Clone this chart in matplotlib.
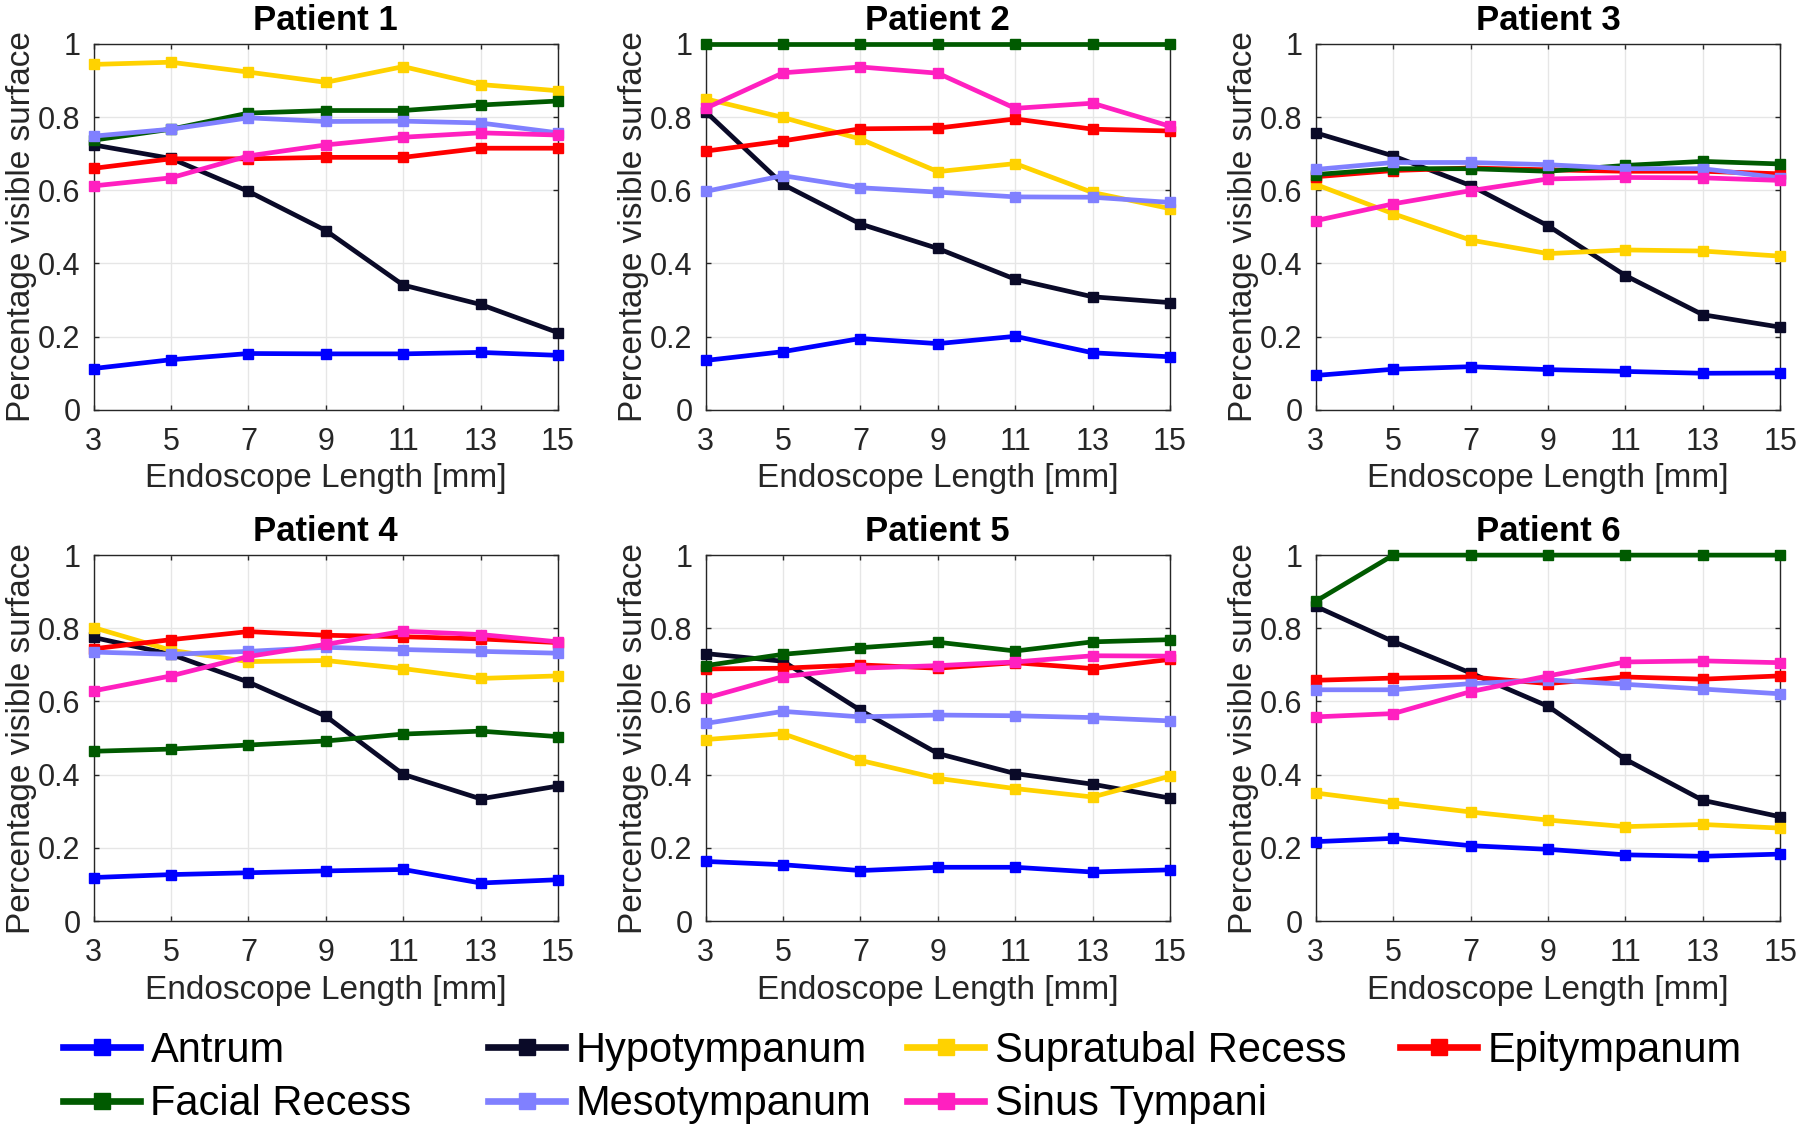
import matplotlib.pyplot as plt
from matplotlib.lines import Line2D
from matplotlib.ticker import FormatStrFormatter
import numpy as np

plt.rcParams['font.family'] = ['Liberation Sans', 'DejaVu Sans']

lengths = [3, 5, 7, 9, 11, 13, 15]
regions = ['Antrum', 'Hypotympanum', 'Supratubal Recess', 'Epitympanum',
           'Facial Recess', 'Mesotympanum', 'Sinus Tympani']
colors = ['#0000FF', '#0A0A28', '#FFD200', '#FF0000',
          '#005A00', '#8080FF', '#FF20C0']

# visible surface fraction per patient, one row per region (same order as regions)
patient1 = [
    [0.113, 0.137, 0.154, 0.153, 0.153, 0.157, 0.149],
    [0.724, 0.687, 0.597, 0.490, 0.341, 0.288, 0.211],
    [0.944, 0.950, 0.923, 0.895, 0.938, 0.889, 0.872],
    [0.660, 0.686, 0.686, 0.690, 0.690, 0.715, 0.715],
    [0.737, 0.767, 0.811, 0.818, 0.818, 0.833, 0.844],
    [0.748, 0.767, 0.798, 0.788, 0.789, 0.784, 0.757],
    [0.612, 0.634, 0.694, 0.724, 0.745, 0.757, 0.751],
]
patient2 = [
    [0.135, 0.159, 0.195, 0.181, 0.201, 0.156, 0.145],
    [0.815, 0.616, 0.508, 0.441, 0.357, 0.309, 0.293],
    [0.850, 0.799, 0.740, 0.651, 0.673, 0.594, 0.550],
    [0.707, 0.735, 0.768, 0.770, 0.795, 0.767, 0.762],
    [1.000, 1.000, 1.000, 1.000, 1.000, 1.000, 1.000],
    [0.597, 0.640, 0.607, 0.595, 0.582, 0.581, 0.567],
    [0.824, 0.921, 0.937, 0.920, 0.824, 0.838, 0.775],
]
patient3 = [
    [0.094, 0.111, 0.118, 0.110, 0.105, 0.100, 0.101],
    [0.757, 0.694, 0.613, 0.503, 0.367, 0.260, 0.226],
    [0.616, 0.536, 0.464, 0.427, 0.437, 0.434, 0.420],
    [0.637, 0.654, 0.661, 0.656, 0.652, 0.652, 0.645],
    [0.643, 0.659, 0.659, 0.652, 0.668, 0.679, 0.672],
    [0.657, 0.676, 0.676, 0.670, 0.659, 0.659, 0.634],
    [0.517, 0.563, 0.599, 0.631, 0.635, 0.634, 0.627],
]
patient4 = [
    [0.119, 0.127, 0.132, 0.137, 0.141, 0.104, 0.113],
    [0.775, 0.729, 0.653, 0.560, 0.401, 0.334, 0.369],
    [0.802, 0.740, 0.709, 0.712, 0.690, 0.663, 0.670],
    [0.744, 0.769, 0.791, 0.781, 0.777, 0.771, 0.761],
    [0.464, 0.470, 0.481, 0.492, 0.511, 0.519, 0.504],
    [0.735, 0.729, 0.737, 0.748, 0.742, 0.737, 0.732],
    [0.629, 0.670, 0.723, 0.756, 0.792, 0.783, 0.763],
]
patient5 = [
    [0.163, 0.154, 0.138, 0.147, 0.147, 0.134, 0.140],
    [0.731, 0.710, 0.576, 0.458, 0.403, 0.374, 0.336],
    [0.496, 0.512, 0.439, 0.390, 0.362, 0.339, 0.396],
    [0.689, 0.691, 0.700, 0.691, 0.706, 0.690, 0.715],
    [0.698, 0.729, 0.747, 0.762, 0.738, 0.763, 0.769],
    [0.540, 0.573, 0.558, 0.563, 0.561, 0.556, 0.547],
    [0.609, 0.668, 0.691, 0.698, 0.708, 0.725, 0.724],
]
patient6 = [
    [0.217, 0.226, 0.206, 0.196, 0.181, 0.177, 0.183],
    [0.860, 0.764, 0.678, 0.587, 0.442, 0.330, 0.285],
    [0.350, 0.323, 0.298, 0.276, 0.258, 0.264, 0.254],
    [0.658, 0.664, 0.667, 0.649, 0.667, 0.661, 0.670],
    [0.874, 1.000, 1.000, 1.000, 1.000, 1.000, 1.000],
    [0.632, 0.632, 0.649, 0.659, 0.647, 0.634, 0.621],
    [0.558, 0.567, 0.627, 0.670, 0.708, 0.711, 0.706],
]
patients = [patient1, patient2, patient3, patient4, patient5, patient6]
titles = ['Patient 1', 'Patient 2', 'Patient 3', 'Patient 4', 'Patient 5', 'Patient 6']

fig = plt.figure(figsize=(18, 11.26), dpi=100)

lefts = [0.052, 0.392, 0.731]
bottoms = [0.636, 0.182]
w, h = 0.258, 0.325
txt = '#262626'

for i, data in enumerate(patients):
    ax = fig.add_axes([lefts[i % 3], bottoms[i // 3], w, h])
    for j, vals in enumerate(data):
        ax.plot(lengths, vals, color=colors[j], lw=3.4, marker='s',
                markersize=7, markerfacecolor=colors[j], markeredgecolor=colors[j],
                markeredgewidth=1, clip_on=False, zorder=3)
    ax.set_xlim(3, 15)
    ax.set_ylim(0, 1)
    ax.set_xticks(lengths)
    ax.set_yticks([0, 0.2, 0.4, 0.6, 0.8, 1.0])
    ax.yaxis.set_major_formatter(FormatStrFormatter('%g'))
    ax.grid(True, color='#e6e6e6', lw=1)
    ax.set_axisbelow(True)
    ax.tick_params(direction='in', length=3.5, width=1, top=True, right=True,
                   labelsize=22, colors=txt)
    ax.tick_params(axis='x', pad=12)
    ax.tick_params(axis='y', pad=9.5)
    for sp in ax.spines.values():
        sp.set_color(txt)
        sp.set_linewidth(1)
    ax.set_title(titles[i], fontsize=25, fontweight='bold', pad=10)
    ax.set_xlabel('Endoscope Length [mm]', fontsize=24, color=txt, labelpad=5)
    ax.set_ylabel('Percentage visible surface', fontsize=24, color=txt, labelpad=1)

# legend laid out in four columns like the original (Antrum/Facial, Hypo/Meso, ...)
columns = [[0, 4], [1, 5], [2, 6], [3]]
col_x = [63, 488, 907, 1400]
for col, x in zip(columns, col_x):
    hs = [Line2D([], [], color=colors[k], lw=4.8, marker='s', markersize=11.5,
                 markeredgecolor=colors[k]) for k in col]
    fig.legend(hs, [regions[k] for k in col], loc='upper left',
               bbox_to_anchor=(x / 1800, 1 - 1031 / 1126), frameon=False,
               fontsize=30, handlelength=1.85, handletextpad=0.25,
               labelspacing=0.32, borderpad=0, borderaxespad=0)

fig.savefig('out.png', dpi=100)
